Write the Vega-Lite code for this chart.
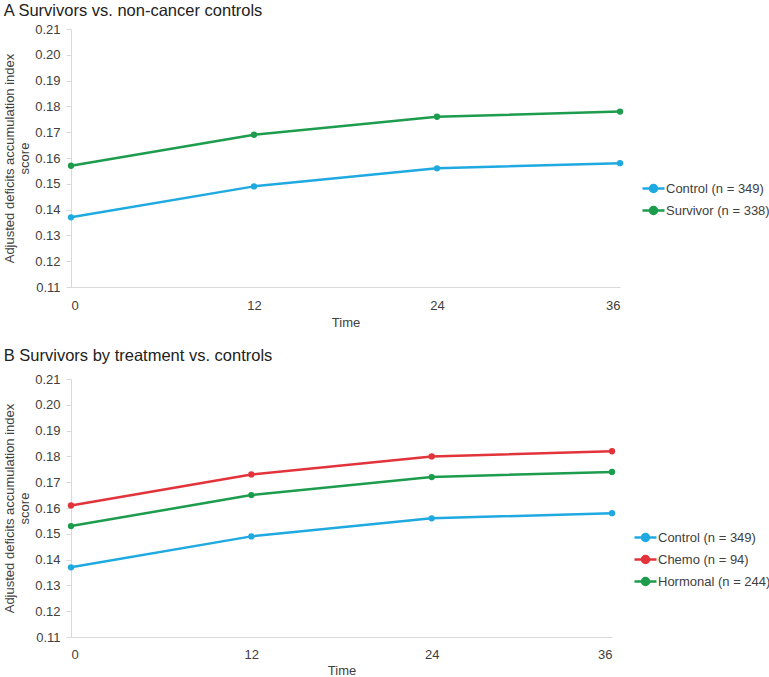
{
  "$schema": "https://vega.github.io/schema/vega-lite/v6.json",
  "padding": {"left": 3, "top": 2, "right": 0, "bottom": 0},
  "config": {
    "font": "Liberation Sans",
    "view": {"stroke": null},
    "axis": {"grid": false, "domainColor": "#d9d9d9", "tickColor": "#d9d9d9", "labelColor": "#404040", "labelFontSize": 13, "titleFontSize": 13, "titleFontWeight": "normal", "titleColor": "#404040"},
    "axisY": {"titleFontSize": 13, "titleLineHeight": 15},
    "title": {"fontSize": 16.5, "fontWeight": "normal", "anchor": "start", "frame": "bounds", "color": "#222222", "offset": 4},
    "legend": {"labelFontSize": 13, "labelColor": "#404040", "labelLimit": 200, "symbolType": "M-1,0H1M-0.32,0A0.32,0.32,0,1,1,0.32,0A0.32,0.32,0,1,1,-0.32,0", "symbolSize": 484, "symbolStrokeWidth": 2.5, "labelOffset": 0, "rowPadding": 0},
    "concat": {"spacing": 18}
  },
  "data": {"values": [
    {"panel": "A", "group": "Control (n = 349)", "time": 0, "score": 0.137},
    {"panel": "A", "group": "Control (n = 349)", "time": 12, "score": 0.149},
    {"panel": "A", "group": "Control (n = 349)", "time": 24, "score": 0.156},
    {"panel": "A", "group": "Control (n = 349)", "time": 36, "score": 0.158},
    {"panel": "A", "group": "Survivor (n = 338)", "time": 0, "score": 0.157},
    {"panel": "A", "group": "Survivor (n = 338)", "time": 12, "score": 0.169},
    {"panel": "A", "group": "Survivor (n = 338)", "time": 24, "score": 0.176},
    {"panel": "A", "group": "Survivor (n = 338)", "time": 36, "score": 0.178},
    {"panel": "B", "group": "Control (n = 349)", "time": 0, "score": 0.137},
    {"panel": "B", "group": "Control (n = 349)", "time": 12, "score": 0.149},
    {"panel": "B", "group": "Control (n = 349)", "time": 24, "score": 0.156},
    {"panel": "B", "group": "Control (n = 349)", "time": 36, "score": 0.158},
    {"panel": "B", "group": "Chemo (n = 94)", "time": 0, "score": 0.161},
    {"panel": "B", "group": "Chemo (n = 94)", "time": 12, "score": 0.173},
    {"panel": "B", "group": "Chemo (n = 94)", "time": 24, "score": 0.180},
    {"panel": "B", "group": "Chemo (n = 94)", "time": 36, "score": 0.182},
    {"panel": "B", "group": "Hormonal (n = 244)", "time": 0, "score": 0.153},
    {"panel": "B", "group": "Hormonal (n = 244)", "time": 12, "score": 0.165},
    {"panel": "B", "group": "Hormonal (n = 244)", "time": 24, "score": 0.172},
    {"panel": "B", "group": "Hormonal (n = 244)", "time": 36, "score": 0.174}
  ]},
  "vconcat": [
    {
      "title": "A Survivors vs. non-cancer controls",
      "width": 549, "height": 258,
      "transform": [{"filter": "datum.panel === 'A'"}],
      "mark": {"type": "line", "strokeWidth": 2.5, "point": {"filled": true, "size": 40}},
      "encoding": {
        "x": {"field": "time", "type": "quantitative", "scale": {"domain": [0, 36], "nice": false}, "axis": {"values": [0, 12, 24, 36], "ticks": false, "labelPadding": 12, "title": "Time", "titlePadding": 4}},
        "y": {"field": "score", "type": "quantitative", "scale": {"domain": [0.11, 0.21], "nice": false, "zero": false}, "axis": {"values": [0.11, 0.12, 0.13, 0.14, 0.15, 0.16, 0.17, 0.18, 0.19, 0.2, 0.21], "format": ".2f", "tickSize": 5, "labelPadding": 6, "title": ["Adjusted deficits accumulation index", "score"], "titlePadding": 3}},
        "color": {"field": "group", "type": "nominal", "scale": {"domain": ["Control (n = 349)", "Survivor (n = 338)"], "range": ["#1FA9E1", "#1C9C4C"]}, "legend": {"title": null, "orient": "none", "legendX": 570, "legendY": 147, "encode": {"symbols": {"update": {"fill": {"scale": "concat_0_color", "field": "value"}}}}}}
      }
    },
    {
      "title": {"text": "B Survivors by treatment vs. controls", "offset": 9},
      "width": 541, "height": 258,
      "transform": [{"filter": "datum.panel === 'B'"}],
      "mark": {"type": "line", "strokeWidth": 2.5, "point": {"filled": true, "size": 40}},
      "encoding": {
        "x": {"field": "time", "type": "quantitative", "scale": {"domain": [0, 36], "nice": false}, "axis": {"values": [0, 12, 24, 36], "ticks": false, "labelPadding": 11, "title": "Time", "titlePadding": 3}},
        "y": {"field": "score", "type": "quantitative", "scale": {"domain": [0.11, 0.21], "nice": false, "zero": false}, "axis": {"values": [0.11, 0.12, 0.13, 0.14, 0.15, 0.16, 0.17, 0.18, 0.19, 0.2, 0.21], "format": ".2f", "tickSize": 5, "labelPadding": 6, "title": ["Adjusted deficits accumulation index", "score"], "titlePadding": 3}},
        "color": {"field": "group", "type": "nominal", "scale": {"domain": ["Control (n = 349)", "Chemo (n = 94)", "Hormonal (n = 244)"], "range": ["#1FA9E1", "#E2333B", "#1C9C4C"]}, "legend": {"title": null, "orient": "none", "legendX": 562, "legendY": 146, "encode": {"symbols": {"update": {"fill": {"scale": "concat_1_color", "field": "value"}}}}}}
      }
    }
  ],
  "resolve": {"scale": {"color": "independent"}}
}
